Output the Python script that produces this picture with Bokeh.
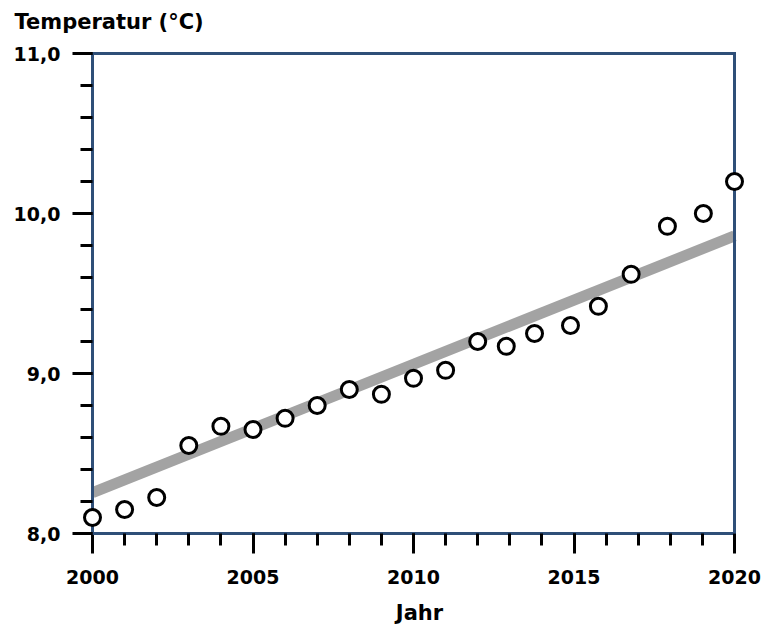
from bokeh.plotting import figure
from bokeh.models import Range1d, FixedTicker, LinearAxis, Label
from bokeh.embed import file_html
from bokeh.resources import INLINE

# Data
years = [2000, 2001, 2002, 2003, 2004, 2005, 2006, 2007, 2008, 2009, 2010,
         2011, 2012, 2012.89, 2013.77, 2014.89, 2015.76, 2016.78, 2017.91, 2019.03, 2020]
temps = [8.10, 8.15, 8.225, 8.55, 8.67, 8.65, 8.72, 8.80, 8.90, 8.87, 8.97,
         9.02, 9.20, 9.17, 9.25, 9.30, 9.42, 9.62, 9.92, 10.0, 10.2]
trend_x = [2000, 2020]
trend_y = [8.255, 9.86]

x_major = [2000, 2005, 2010, 2015, 2020]
x_minor = list(range(2000, 2021))
y_major = [8, 9, 10, 11]
y_minor = [round(8 + 0.2 * i, 1) for i in range(16)]
y_labels = ["8,0", "9,0", "10,0", "11,0"]

X0, X1 = 2000, 2020
Y0, Y1 = 8, 11
PAD = 0.3738  # room on the right so the last circle is not cut

FONT = "DejaVu Sans"
FRAME = "#2f4f78"

p = figure(frame_width=654, frame_height=480, min_border_left=92, min_border_top=53,
           min_border_right=19, min_border_bottom=91,
           x_range=Range1d(X0, X1 + PAD), y_range=Range1d(Y0, Y1),
           x_axis_location=None, y_axis_location=None,
           output_backend="svg", toolbar_location=None)

p.background_fill_color = "white"
p.border_fill_color = "white"
p.outline_line_color = None
p.xgrid.visible = False
p.ygrid.visible = False


def style(ax, ticks=True):
    ax.axis_line_color = FRAME
    ax.axis_line_width = 3
    ax.axis_line_cap = "square"
    ax.major_tick_line_color = "black"
    ax.minor_tick_line_color = "black"
    ax.major_tick_line_width = 3
    ax.minor_tick_line_width = 3
    ax.major_tick_out = 20
    ax.major_tick_in = 0
    ax.minor_tick_out = 12
    ax.minor_tick_in = 0
    ax.major_label_text_font = FONT
    ax.major_label_text_font_style = "bold"
    ax.major_label_text_font_size = "19px"
    ax.major_label_text_color = "black"
    if not ticks:
        ax.major_tick_line_color = None
        ax.minor_tick_line_color = None
        ax.major_tick_out = 0
        ax.minor_tick_out = 0
        ax.major_label_text_font_size = "0px"
        ax.major_label_standoff = 0


xaxis = LinearAxis(ticker=FixedTicker(ticks=x_major, minor_ticks=x_minor), bounds=(X0, X1))
style(xaxis)
xaxis.major_label_standoff = 16
xaxis.major_label_overrides = {t: str(t) for t in x_major}
xaxis.axis_label = "Jahr"
xaxis.axis_label_text_font = FONT
xaxis.axis_label_text_font_style = "bold"
xaxis.axis_label_text_font_size = "21px"
xaxis.axis_label_text_color = "black"
xaxis.axis_label_standoff = 14
p.add_layout(xaxis, "below")

yaxis = LinearAxis(ticker=FixedTicker(ticks=y_major, minor_ticks=y_minor), bounds=(Y0, Y1))
style(yaxis)
yaxis.major_label_standoff = 12
yaxis.major_label_overrides = {t: l for t, l in zip(y_major, y_labels)}
p.add_layout(yaxis, "left")

top_axis = LinearAxis(ticker=FixedTicker(ticks=[]), bounds=(X0, X1))
style(top_axis, ticks=False)
p.add_layout(top_axis, "above")

right_axis = LinearAxis(ticker=FixedTicker(ticks=[]), bounds=(Y0, Y1), fixed_location=X1)
style(right_axis, ticks=False)
p.add_layout(right_axis, "right")

title = Label(x=1997.57, y=11.2, text="Temperatur (°C)", text_font=FONT,
              text_font_style="bold", text_font_size="21px", text_color="black",
              text_baseline="alphabetic", text_align="left")
p.add_layout(title, "above")

p.line(trend_x, trend_y, line_color="#a3a3a3", line_width=11)
p.scatter(years, temps, size=16, fill_color="white", line_color="black", line_width=3,
          level="overlay")

open("out.html", "w").write(file_html(p, INLINE))
